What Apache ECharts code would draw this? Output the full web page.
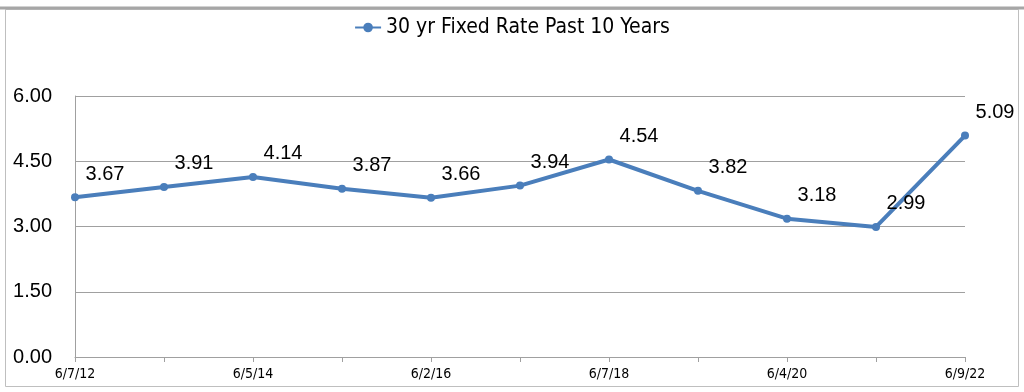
<!DOCTYPE html>
<html><head><meta charset="utf-8">
<script src="https://cdn.jsdelivr.net/npm/echarts@6/dist/echarts.min.js"></script>
<style>html,body{margin:0;padding:0;background:#fff}#c{width:1024px;height:392px}</style>
</head><body><div id="c"></div>
<script>
const categories = ['6/7/12','6/6/13','6/5/14','6/4/15','6/2/16','6/1/17','6/7/18','6/6/19','6/4/20','6/3/21','6/9/22'];
const rates = [3.67,3.91,4.14,3.87,3.66,3.94,4.54,3.82,3.18,2.99,5.09];
const seriesName = '30 yr Fixed Rate Past 10 Years';
const chart = echarts.init(document.getElementById('c'), null, {renderer:'canvas'});
const narrow = "'Liberation Sans Narrow', 'DejaVu Sans Condensed', sans-serif";
chart.setOption({
  animation:false,
  graphic:[
    {type:'rect', shape:{x:5.5,y:9.5,width:1013,height:377}, style:{fill:'none', stroke:'#bfbfbf', lineWidth:1}},
    {type:'line', shape:{x1:0,y1:8,x2:1024,y2:8}, style:{stroke:'#a6a6a6', lineWidth:3}}
  ],
  legend:{top:12, left:'center', itemWidth:26, itemHeight:12, itemGap:10,
    textStyle:{fontFamily:narrow, fontSize:21, color:'#000'}},
  grid:{left:75, right:59, top:96, bottom:35, containLabel:false},
  xAxis:{type:'category', data:categories, boundaryGap:false,
    axisLine:{lineStyle:{color:'#a0a0a0'}},
    axisTick:{show:true, interval:0, length:5, lineStyle:{color:'#a0a0a0'}},
    axisLabel:{interval:1, fontFamily:narrow, fontSize:14, color:'#000', margin:10},
    splitLine:{show:false}},
  yAxis:{type:'value', min:0, max:6, interval:1.5,
    axisLine:{show:true, lineStyle:{color:'#a0a0a0'}},
    axisTick:{show:false},
    axisLabel:{formatter:v=>v.toFixed(2), fontFamily:"'Liberation Sans', Arial, sans-serif", fontSize:20, color:'#000', margin:23},
    splitLine:{lineStyle:{color:'#a0a0a0', width:1}}},
  series:[{name:seriesName, type:'line', data:rates, symbol:'circle', symbolSize:8,
    itemStyle:{color:'#4a7ebb'}, lineStyle:{color:'#4a7ebb', width:4},
    label:{show:true, position:'top', offset:[30,-4], formatter:p=>p.value.toFixed(2),
      fontFamily:"'Liberation Sans', Arial, sans-serif", fontSize:20, color:'#000'}}]
});
</script></body></html>
